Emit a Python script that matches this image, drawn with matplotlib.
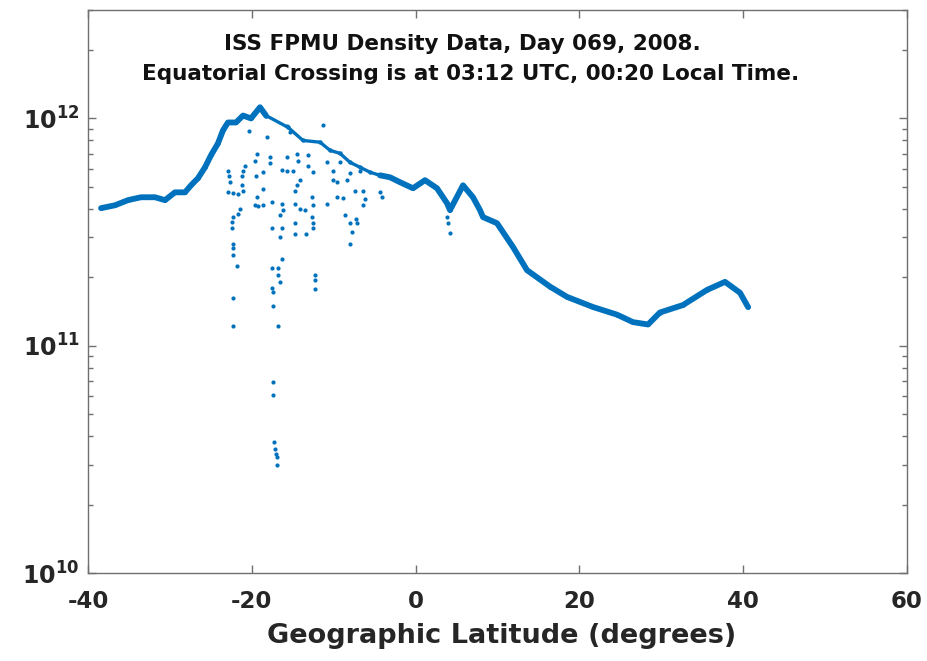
import matplotlib
matplotlib.use("Agg")
import matplotlib.pyplot as plt
from matplotlib.ticker import FixedLocator, NullFormatter

# ---- data ----
band_lat = [-38.41, -36.70, -35.12, -33.53, -31.82, -30.60, -29.38, -28.16, -27.42,
            -26.57, -25.71, -24.98, -24.13, -23.52, -22.91, -21.93, -21.07, -20.10,
            -19.00, -18.27, -15.58, -13.75, -11.67, -10.45, -9.23, -8.01, -6.79,
            -5.57, -4.35, -3.13, -1.90, -0.32, 1.15, 2.61, 3.83, 4.20, 5.79, 7.01,
            7.86, 8.23, 9.94, 11.89, 13.60, 16.41, 18.49, 21.66, 24.59, 26.54,
            28.38, 29.83, 32.65, 35.58, 37.78, 39.61, 40.59]
band_dens = [4.03e11, 4.15e11, 4.37e11, 4.5e11, 4.5e11, 4.37e11, 4.73e11, 4.73e11, 5.08e11,
             5.46e11, 6.1e11, 6.89e11, 7.77e11, 8.86e11, 9.6e11, 9.6e11, 1.03e12, 1.0e12,
             1.12e12, 1.03e12, 9.14e11, 8.0e11, 7.86e11, 7.24e11, 7.02e11, 6.41e11, 6.1e11,
             5.8e11, 5.62e11, 5.51e11, 5.24e11, 4.93e11, 5.35e11, 4.93e11, 4.24e11, 3.95e11,
             5.08e11, 4.5e11, 3.95e11, 3.68e11, 3.46e11, 2.72e11, 2.15e11, 1.82e11, 1.64e11,
             1.48e11, 1.37e11, 1.27e11, 1.24e11, 1.40e11, 1.51e11, 1.76e11, 1.91e11, 1.71e11,
             1.48e11]

scatter_lat = [-20.30, -18.11, -19.33, -17.78, -17.78, -15.75, -14.45, -13.10, -14.32, -19.61,
               -20.83, -21.04, -21.16, -22.87, -22.75, -22.66, -19.49, -18.68, -16.35, -15.75,
               -14.93, -13.10, -12.50, -10.87, -10.05, -9.23, -8.01, -6.79, -14.11, -14.52,
               -14.73, -10.05, -9.65, -8.42, -22.87, -22.26, -21.65, -21.23, -21.04, -18.60,
               -19.40, -19.61, -19.21, -18.60, -17.57, -16.35, -16.15, -16.56, -14.73, -14.11,
               -13.50, -12.69, -12.50, -10.87, -9.65, -8.83, -7.40, -6.39, -6.18, -6.39,
               -4.35, -4.14, -21.44, -21.65, -22.26, -22.45, -22.45, -17.57, -16.35, -16.56,
               -14.73, -14.73, -13.38, -12.69, -12.50, -12.50, -8.62, -8.01, -7.81, -8.01,
               -7.28, -7.20, -22.26, -22.26, -22.26, -21.84, -17.57, -16.76, -16.35, -16.76,
               -16.56, -12.28, -12.28, -12.28, -17.57, -17.37, -22.26, -17.37, -22.26, -16.84,
               -17.37, -17.37, -17.29, -17.17, -17.05, -16.96, -16.89, -11.35, -15.75, -15.34,
               3.83, 4.00, 4.20]
scatter_dens = [8.8e11, 8.3e11, 7.0e11, 6.8e11, 6.35e11, 6.8e11, 7.0e11, 6.9e11, 6.5e11, 6.5e11,
                6.2e11, 5.9e11, 5.6e11, 5.9e11, 5.6e11, 5.25e11, 5.6e11, 5.8e11, 5.95e11, 5.9e11,
                5.9e11, 6.2e11, 5.8e11, 6.4e11, 5.9e11, 6.4e11, 5.75e11, 5.9e11, 5.35e11, 5.1e11,
                4.8e11, 5.35e11, 5.25e11, 5.35e11, 4.75e11, 4.7e11, 4.65e11, 5.1e11, 4.8e11, 4.9e11,
                4.5e11, 4.15e11, 4.1e11, 4.15e11, 4.3e11, 4.2e11, 3.95e11, 3.75e11, 4.2e11, 4.0e11,
                3.95e11, 4.5e11, 4.15e11, 4.2e11, 4.5e11, 4.45e11, 4.8e11, 4.8e11, 4.4e11, 4.15e11,
                4.75e11, 4.5e11, 4.0e11, 3.8e11, 3.7e11, 3.5e11, 3.3e11, 3.3e11, 3.3e11, 3.0e11,
                3.45e11, 3.1e11, 3.1e11, 3.7e11, 3.45e11, 3.3e11, 3.75e11, 3.45e11, 3.15e11, 2.8e11,
                3.6e11, 3.45e11, 2.8e11, 2.7e11, 2.5e11, 2.25e11, 2.2e11, 2.2e11, 2.4e11, 2.05e11,
                1.9e11, 2.05e11, 1.95e11, 1.78e11, 1.8e11, 1.73e11, 1.62e11, 1.49e11, 1.22e11, 1.22e11,
                6.9e10, 6.05e10, 3.76e10, 3.5e10, 3.33e10, 3.23e10, 3.0e10, 9.4e11, 9.3e11, 8.7e11,
                3.7e11, 3.46e11, 3.13e11]

x_ticks = [-40, -20, 0, 20, 40, 60]
y_ticks = [1e10, 1e11, 1e12]
y_ticklabels = [r"$\mathbf{10^{10}}$", r"$\mathbf{10^{11}}$", r"$\mathbf{10^{12}}$"]
title_lines = ["ISS FPMU Density Data, Day 069, 2008.",
               "Equatorial Crossing is at 03:12 UTC, 00:20 Local Time."]
x_label = "Geographic Latitude (degrees)"

# ---- drawing ----
blue = "#0072BD"
axis_grey = "#707070"
text_col = "#262626"

fig = plt.figure(figsize=(9.28, 6.61), dpi=100)
ax = fig.add_axes([88/928, 1 - 573/661, (907-88)/928, (573-10)/661])

# dense band: thick where the data are dense, thinner in the noisy stretch after the peak
segments = [(0, 20, 4.2), (19, 29, 2.4), (28, len(band_lat), 4.2)]
for i0, i1, lw in segments:
    ax.plot(band_lat[i0:i1], band_dens[i0:i1], color=blue, lw=lw,
            solid_joinstyle="round", solid_capstyle="round", zorder=2)
ax.plot(band_lat, band_dens, linestyle="none", marker="o", markersize=3.2,
        color=blue, markeredgewidth=0, zorder=3)
ax.plot(scatter_lat, scatter_dens, linestyle="none", marker="o", markersize=3.0,
        color=blue, markeredgewidth=0, zorder=3)

ax.set_yscale("log")
ax.set_xlim(-40, 60)
ax.set_ylim(1e10, 3e12)

ax.xaxis.set_major_locator(FixedLocator(x_ticks))
ax.set_xticklabels([str(t) for t in x_ticks])
ax.yaxis.set_major_locator(FixedLocator(y_ticks))
ax.set_yticklabels(y_ticklabels)
minor = [m * 10**e for e in (10, 11, 12) for m in range(2, 10) if m * 10**e <= 3e12]
ax.yaxis.set_minor_locator(FixedLocator(minor))
ax.yaxis.set_minor_formatter(NullFormatter())

for s in ax.spines.values():
    s.set_color(axis_grey)
    s.set_linewidth(1.0)

ax.tick_params(axis="both", which="major", direction="in", length=6, width=1.0,
               color=axis_grey, top=True, right=True, labelcolor=text_col)
ax.tick_params(axis="y", which="minor", direction="in", length=3.5, width=1.0,
               color=axis_grey, left=True, right=True)
ax.tick_params(axis="x", which="major", labelsize=16.5, pad=12)
ax.tick_params(axis="y", which="major", labelsize=17, pad=6)
for lab in ax.get_xticklabels():
    lab.set_fontweight("bold")

ax.set_xlabel(x_label, fontsize=19.5, fontweight="bold", color=text_col)
ax.xaxis.set_label_coords(0.505, -0.088)

ax.text(0.457, 0.929, title_lines[0], transform=ax.transAxes, ha="center",
        va="baseline", fontsize=15.5, fontweight="bold", color="#111111")
ax.text(0.467, 0.8757, title_lines[1], transform=ax.transAxes, ha="center",
        va="baseline", fontsize=15.5, fontweight="bold", color="#111111")

fig.savefig("out.png", dpi=100)
